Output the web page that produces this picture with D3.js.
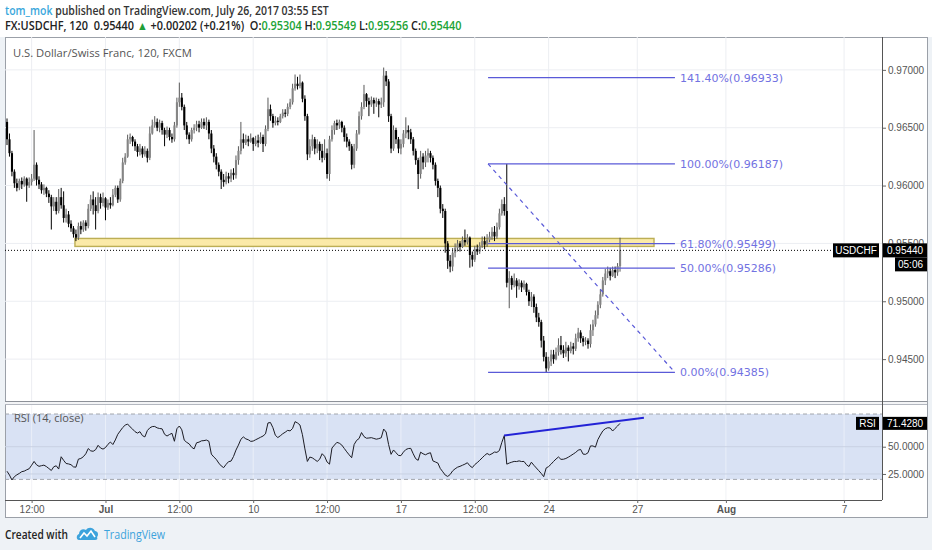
<!DOCTYPE html>
<html>
<head>
<meta charset="utf-8">
<script src="https://cdn.jsdelivr.net/npm/d3@7"></script>
<style>
body{margin:0;background:#eef2f6;}
text{white-space:pre;}
</style>
</head>
<body>
<script>
// USD/CHF 120-minute bars. open = previous close
const firstOpen=0.9655
const closes=[
0.9640,0.9628,0.9612,0.9602,0.9598,0.9604,0.9601,0.9606,0.9600,0.9603,
0.9606,0.9618,0.9605,0.9601,0.9596,0.9598,0.9593,0.9590,0.9582,0.9586,
0.9578,0.9590,0.9583,0.9572,0.9575,0.9567,0.9563,0.9558,0.9555,0.9565,
0.9562,0.9568,0.9565,0.9580,0.9588,0.9583,0.9578,0.9590,0.9585,0.9589,
0.9581,0.9585,0.9583,0.9592,0.9598,0.9588,0.9604,0.9620,0.9625,0.9640,
0.9642,0.9638,0.9634,0.9629,0.9632,0.9627,0.9630,0.9624,0.9645,0.9652,
0.9655,0.9650,0.9654,0.9648,0.9644,0.9648,0.9642,0.9640,0.9652,0.9672,
0.9676,0.9668,0.9652,0.9644,0.9640,0.9648,0.9650,0.9653,0.9650,0.9655,
0.9652,0.9655,0.9645,0.9632,0.9625,0.9618,0.9612,0.9605,0.9603,0.9608,
0.9606,0.9611,0.9609,0.9622,0.9630,0.9640,0.9637,0.9640,0.9638,0.9641,
0.9636,0.9639,0.9637,0.9642,0.9636,0.9649,0.9666,0.9660,0.9654,0.9656,
0.9655,0.9660,0.9663,0.9662,0.9668,0.9672,0.9684,0.9688,0.9686,0.9689,
0.9675,0.9660,0.9627,0.9634,0.9640,0.9632,0.9636,0.9630,0.9624,0.9628,
0.9610,0.9640,0.9648,0.9654,0.9652,0.9655,0.9650,0.9642,0.9638,0.9634,
0.9618,0.9632,0.9645,0.9660,0.9668,0.9679,0.9673,0.9670,0.9674,0.9671,
0.9673,0.9670,0.9672,0.9695,0.9690,0.9660,0.9632,0.9648,0.9640,0.9632,
0.9636,0.9645,0.9648,0.9646,0.9640,0.9630,0.9622,0.9610,0.9625,0.9620,
0.9626,0.9628,0.9624,0.9618,0.9604,0.9598,0.9580,0.9578,0.9550,0.9535,
0.9530,0.9542,0.9546,0.9550,0.9547,0.9553,0.9551,0.9555,0.9540,0.9536,
0.9545,0.9543,0.9548,0.9552,0.9549,0.9553,0.9556,0.9560,0.9556,0.9564,
0.9576,0.9584,0.9578,0.9516,0.9520,0.9514,0.9518,0.9513,0.9516,0.9512,
0.9515,0.9508,0.9500,0.9504,0.9495,0.9486,0.9482,0.9466,0.9452,0.9442,
0.9448,0.9454,0.9450,0.9456,0.9462,0.9458,0.9455,0.9460,0.9457,0.9461,
0.9459,0.9468,0.9473,0.9468,0.9465,0.9466,0.9463,0.9475,0.9480,0.9488,
0.9497,0.9506,0.9518,0.9524,0.9526,0.9522,0.9527,0.9525,0.95304,0.95440]
const highs=[
0.9658,0.9645,0.9630,0.9614,0.9606,0.9606,0.9607,0.9608,0.9607,0.9607,
0.9610,0.9648,0.9620,0.9608,0.9603,0.9601,0.9599,0.9596,0.9592,0.9590,
0.9590,0.9597,0.9598,0.9595,0.9580,0.9578,0.9570,0.9565,0.9562,0.9568,
0.9569,0.9570,0.9570,0.9584,0.9592,0.9595,0.9590,0.9594,0.9593,0.9594,
0.9590,0.9588,0.9590,0.9597,0.9600,0.9600,0.9606,0.9624,0.9628,0.9644,
0.9645,0.9643,0.9640,0.9636,0.9636,0.9634,0.9634,0.9632,0.9651,0.9657,
0.9660,0.9658,0.9657,0.9656,0.9650,0.9651,0.9650,0.9645,0.9655,0.9676,
0.9689,0.9680,0.9670,0.9655,0.9646,0.9650,0.9653,0.9656,0.9656,0.9658,
0.9658,0.9659,0.9657,0.9648,0.9635,0.9628,0.9620,0.9614,0.9610,0.9612,
0.9611,0.9614,0.9615,0.9626,0.9634,0.9655,0.9645,0.9644,0.9643,0.9645,
0.9642,0.9643,0.9644,0.9646,0.9644,0.9652,0.9676,0.9670,0.9662,0.9660,
0.9659,0.9662,0.9666,0.9666,0.9671,0.9675,0.9688,0.9696,0.9694,0.9696,
0.9690,0.9678,0.9662,0.9640,0.9644,0.9642,0.9640,0.9638,0.9636,0.9640,
0.9632,0.9643,0.9652,0.9656,0.9657,0.9657,0.9656,0.9652,0.9645,0.9640,
0.9636,0.9636,0.9648,0.9664,0.9672,0.9687,0.9680,0.9676,0.9677,0.9676,
0.9676,0.9675,0.9676,0.9702,0.9699,0.9692,0.9662,0.9652,0.9650,0.9642,
0.9640,0.9648,0.9659,0.9652,0.9649,0.9642,0.9632,0.9624,0.9630,0.9628,
0.9630,0.9632,0.9630,0.9626,0.9620,0.9606,0.9600,0.9584,0.9580,0.9552,
0.9540,0.9546,0.9550,0.9553,0.9552,0.9556,0.9562,0.9558,0.9556,0.9543,
0.9548,0.9549,0.9551,0.9556,0.9556,0.9558,0.9560,0.9564,0.9565,0.9568,
0.9580,0.9588,0.9590,0.96187,0.9526,0.9522,0.9524,0.9520,0.9519,0.9518,
0.9518,0.9516,0.9510,0.9508,0.9506,0.9498,0.9490,0.9484,0.9470,0.9456,
0.9452,0.9458,0.9458,0.9460,0.9468,0.9470,0.9462,0.9465,0.9462,0.9465,
0.9464,0.9472,0.9477,0.9475,0.9470,0.9469,0.9468,0.9480,0.9484,0.9492,
0.9500,0.9510,0.9521,0.9528,0.9530,0.9529,0.9530,0.9530,0.9533,0.95549]
const lows=[
0.9635,0.9625,0.9608,0.9598,0.9595,0.9596,0.9597,0.9599,0.9586,0.9598,
0.9600,0.9604,0.9600,0.9597,0.9593,0.9592,0.9590,0.9585,0.9562,0.9578,
0.9575,0.9576,0.9580,0.9568,0.9568,0.9564,0.9560,0.9555,0.9552,0.9553,
0.9558,0.9560,0.9561,0.9563,0.9578,0.9575,0.9562,0.9576,0.9580,0.9582,
0.9570,0.9579,0.9580,0.9582,0.9590,0.9585,0.9586,0.9602,0.9618,0.9624,
0.9636,0.9634,0.9630,0.9625,0.9626,0.9624,0.9625,0.9620,0.9622,0.9644,
0.9650,0.9647,0.9646,0.9644,0.9634,0.9641,0.9639,0.9637,0.9638,0.9650,
0.9668,0.9665,0.9648,0.9640,0.9636,0.9638,0.9645,0.9647,0.9646,0.9649,
0.9649,0.9648,0.9640,0.9628,0.9620,0.9614,0.9608,0.9597,0.9599,0.9601,
0.9602,0.9603,0.9605,0.9606,0.9618,0.9627,0.9632,0.9635,0.9634,0.9637,
0.9630,0.9634,0.9633,0.9636,0.9629,0.9634,0.9647,0.9656,0.9650,0.9652,
0.9652,0.9654,0.9658,0.9659,0.9660,0.9666,0.9670,0.9682,0.9683,0.9684,
0.9672,0.9656,0.9622,0.9624,0.9630,0.9627,0.9628,0.9622,0.9620,0.9622,
0.9606,0.9604,0.9638,0.9644,0.9648,0.9649,0.9646,0.9638,0.9633,0.9630,
0.9614,0.9615,0.9630,0.9644,0.9657,0.9666,0.9668,0.9660,0.9668,0.9662,
0.9668,0.9659,0.9667,0.9668,0.9686,0.9655,0.9628,0.9630,0.9636,0.9628,
0.9627,0.9633,0.9641,0.9640,0.9636,0.9626,0.9618,0.9597,0.9606,0.9614,
0.9616,0.9620,0.9620,0.9614,0.9600,0.9590,0.9576,0.9572,0.9542,0.9528,
0.9525,0.9526,0.9538,0.9543,0.9543,0.9546,0.9548,0.9549,0.9529,0.9530,
0.9534,0.9540,0.9541,0.9546,0.9545,0.9547,0.9551,0.9553,0.9552,0.9554,
0.9562,0.9574,0.9574,0.9512,0.9494,0.9510,0.9512,0.9503,0.9510,0.9508,
0.9510,0.9505,0.9496,0.9495,0.9490,0.9482,0.9478,0.9460,0.9448,0.94385,
0.9440,0.9444,0.9446,0.9449,0.9453,0.9454,0.9451,0.9452,0.9448,0.9455,
0.9454,0.9457,0.9465,0.9464,0.9461,0.9462,0.9459,0.9460,0.9470,0.9478,
0.9485,0.9494,0.9504,0.9514,0.9520,0.9518,0.9521,0.9520,0.9522,0.95256]
const rsi=[
27.5,24,19.5,22.5,24.2,25.5,27.1,27.6,28.8,29.8,
33,36.5,33.4,32,32.6,33.1,31.8,30,28.2,31.6,
32.5,29.5,40.8,37.5,34.6,34.2,33.5,31.5,31.2,38.6,
39.2,40.8,43.5,48.3,46.2,45.8,47.3,51.3,48.8,47.8,
49.2,52.2,54.3,52,56.2,61.4,64.5,67.6,69.8,70.8,
68.2,66.2,63.8,62.5,63.8,60.2,59,64.8,67.3,68.5,
68.6,67.3,66.7,66.4,61.4,59.8,61.2,62.3,55,66.5,
69,65.5,56,54,52.6,49.5,48,53.6,54.2,55.4,
55.6,56.1,55,43.2,40.6,38.4,35,32.4,30.8,33.8,
36.3,36.8,41,46.9,51.5,56.8,59,57.2,56.4,54.9,
55.2,56.4,57.5,58.7,59.8,61.8,71.8,72.2,67.5,60.5,
58.4,60,61.9,63.3,65,64.5,66.8,73,71.8,69.9,
61,48,36.5,40.5,39.8,38.2,36.5,38.5,43.6,41.2,
36,34,48.8,51.5,54,53.2,51.5,48.4,45.3,42.5,
39.9,52,55.8,57.5,63,59.3,57.8,58,58.3,57.6,
56.9,57.4,58.2,66.2,63.5,52,43,47,44.5,42,
41.8,45,47.4,48.3,48.5,43.5,39,37.5,45,43.5,
42.6,43.8,44.5,37,36,35,30,27,24,22.7,
24.5,27.8,29.7,31.2,32,33,34,35.3,32.5,30.8,
33.6,35.4,37.5,39.8,42,43.8,42.5,43.6,45.1,44.8,
46.5,54,60.3,34,35,35.8,36.5,36.4,37,36.4,
36.5,33.5,31.8,35.8,33,30.5,28,25.5,22.5,30.5,
31.8,34,36.5,38.7,40.6,38.4,38.5,39.2,40.4,41.8,
43.3,44.8,46.8,47.5,43.2,43,44.5,50.7,50.7,49.6,
56.5,60.7,64.5,66.5,67.4,67.2,64.4,66.8,69,71.428]

// time axis: bar index of each label (weekends skipped)
const tickBars=[10,40,70,100,130,160,190,220,256,292,340]
const tickLabels=["12:00","Jul","12:00","10","12:00","17","12:00","24","27","Aug","7"]
const priceTicks=[0.945,0.95,0.955,0.96,0.965,0.97]
const rsiTicks=[25,50]
const rsiBand=[20,80]

// drawings
const fibLevels=[1.414,1,0.618,0.5,0]
const fibPrices=[0.96933,0.96187,0.95499,0.95286,0.94385]
const fibBars=[195.4,271.3]
const zoneBars=[27.6,262.8]
const zonePrices=[0.95474,0.95543]
const rsiTrendBars=[201.9,258.7]
const rsiTrendValues=[60.3,76.6]
const lastPrice=0.9544

const W=932, H=550
const L=5, R=882, FR=927, T=37, PB=401, RT=404, RB=500, FB=517

const x=d3.scaleLinear().domain([0,355]).range([7,881])
const y=d3.scaleLinear().domain([0.94138,0.97284]).range([PB,T])
const yr=d3.scaleLinear().domain([1.1,89.2]).range([RB,RT])

const axisFont="10px 'Liberation Sans', Arial, sans-serif"

const svg=d3.create("svg")
    .attr("width",W)
    .attr("height",H)
    .style("display","block")

//adding svg to body first so texts can be measured
d3.select("body")
    .append(()=>svg.node())

// squeeze a text horizontally to the width it has in the picture
function fit(sel,x0,target){
    const len=sel.node().getComputedTextLength()
    sel.attr("x",0).attr("transform",`translate(${x0},0) scale(${target/len},1)`)
}

svg.append("rect").attr("width",W).attr("height",H).attr("fill","#eef2f6")
svg.append("rect").attr("width",W).attr("height",T).attr("fill","#fff")
svg.append("rect")
    .attr("x",L+0.5).attr("y",T+0.5)
    .attr("width",FR-L).attr("height",FB-T)
    .attr("fill","#fff").attr("stroke","#9ba0a8")

const defs=svg.append("defs")
defs.append("clipPath").attr("id","cp").append("rect")
    .attr("x",L+1).attr("y",T+1).attr("width",R-L-1).attr("height",PB-T-1)
defs.append("clipPath").attr("id","cr").append("rect")
    .attr("x",L+1).attr("y",RT+1).attr("width",R-L-1).attr("height",RB-RT-1)

//grid
svg.append("g").selectAll("line").data(tickBars).join("line")
    .attr("x1",d=>x(d)).attr("x2",d=>x(d))
    .attr("y1",T).attr("y2",RB)
    .attr("stroke","#eceef2")
svg.append("g").selectAll("line").data(priceTicks).join("line")
    .attr("x1",L).attr("x2",R)
    .attr("y1",d=>y(d)).attr("y2",d=>y(d))
    .attr("stroke","#eceef2")

//yellow support zone
svg.append("rect")
    .attr("x",x(zoneBars[0])).attr("width",x(zoneBars[1])-x(zoneBars[0]))
    .attr("y",y(zonePrices[1])).attr("height",y(zonePrices[0])-y(zonePrices[1]))
    .attr("fill","#fbeaa8").attr("stroke","#bcae55").attr("stroke-width",1.4)

//candles
const bars=closes.map((c,i)=>({i:i,o:i?closes[i-1]:firstOpen,h:highs[i],l:lows[i],c:c}))
const cg=svg.append("g").attr("clip-path","url(#cp)")
cg.selectAll("line").data(bars).join("line")
    .attr("x1",d=>x(d.i)).attr("x2",d=>x(d.i))
    .attr("y1",d=>y(d.h)).attr("y2",d=>y(d.l))
    .attr("stroke",d=>d.c>=d.o?"#5a5a5a":"#000")
    .attr("stroke-width",1)
cg.selectAll("rect").data(bars).join("rect")
    .attr("x",d=>x(d.i)-1).attr("width",2.1)
    .attr("y",d=>y(Math.max(d.o,d.c)))
    .attr("height",d=>Math.max(1,Math.abs(y(d.o)-y(d.c))))
    .attr("fill",d=>d.c>=d.o?"#858585":"#000")

//fibonacci retracement
const fg=svg.append("g")
fg.selectAll("line").data(fibPrices).join("line")
    .attr("x1",x(fibBars[0])).attr("x2",x(fibBars[1]))
    .attr("y1",d=>y(d)).attr("y2",d=>y(d))
    .attr("stroke","#5a5ad8").attr("stroke-width",1.3)
fg.append("line")
    .attr("x1",x(fibBars[0])).attr("y1",y(fibPrices[1]))
    .attr("x2",x(fibBars[1])).attr("y2",y(fibPrices[4]))
    .attr("stroke","#5a5ad8").attr("stroke-width",1.2)
    .attr("stroke-dasharray","4,4")
fg.selectAll("text").data(fibPrices).join("text")
    .attr("x",x(fibBars[1])+5)
    .attr("y",d=>y(d)+4)
    .attr("fill","#7272e2")
    .style("font","11px 'DejaVu Sans', sans-serif")
    .text((d,i)=>`${(fibLevels[i]*100).toFixed(2)}%(${d.toFixed(5)})`)

//last price line
svg.append("line")
    .attr("x1",L).attr("x2",833)
    .attr("y1",y(lastPrice)).attr("y2",y(lastPrice))
    .attr("stroke","#000").attr("stroke-dasharray","1,2")

//price axis
const ya=svg.append("g")
    .attr("transform",`translate(${R},0)`)
    .call(d3.axisRight(y).tickValues(priceTicks).tickFormat(d3.format(".5f")).tickSize(4).tickPadding(2))
ya.select(".domain").remove()
ya.selectAll("line").attr("stroke","#666")
ya.selectAll("text").attr("fill","#555").style("font",axisFont)

//price labels
svg.append("rect").attr("x",833).attr("y",y(lastPrice)-7).attr("width",46).attr("height",14).attr("fill","#000")
svg.append("text").attr("x",856).attr("y",y(lastPrice)+4).attr("text-anchor","middle")
    .attr("fill","#fff").style("font",axisFont).text("USDCHF")
svg.append("rect").attr("x",R).attr("y",y(lastPrice)-7).attr("width",FR-R).attr("height",14).attr("fill","#000")
svg.append("text").attr("x",R+5).attr("y",y(lastPrice)+4)
    .attr("fill","#fff").style("font",axisFont).text(d3.format(".5f")(lastPrice))
svg.append("rect").attr("x",895).attr("y",y(lastPrice)+7).attr("width",FR-895).attr("height",14).attr("fill","#000")
svg.append("text").attr("x",898).attr("y",y(lastPrice)+18)
    .attr("fill","#fff").style("font",axisFont).text("05:06")

//pane separator
svg.append("rect").attr("x",L).attr("y",PB).attr("width",FR-L).attr("height",RT-PB).attr("fill","#f3f4f6")
svg.append("line").attr("x1",L).attr("x2",FR).attr("y1",PB+0.5).attr("y2",PB+0.5).attr("stroke","#8d9198")
svg.append("line").attr("x1",L).attr("x2",FR).attr("y1",RT+0.5).attr("y2",RT+0.5).attr("stroke","#b4b8c0")

//RSI pane
svg.append("rect")
    .attr("x",L+1).attr("width",R-L-1)
    .attr("y",yr(rsiBand[1])).attr("height",yr(rsiBand[0])-yr(rsiBand[1]))
    .attr("fill","#d9e2f4")
svg.append("g").selectAll("line").data(tickBars).join("line")
    .attr("x1",d=>x(d)).attr("x2",d=>x(d))
    .attr("y1",RT+1).attr("y2",RB)
    .attr("stroke","#fff").attr("stroke-opacity",0.45)
svg.append("g").selectAll("line").data(rsiTicks).join("line")
    .attr("x1",L).attr("x2",R)
    .attr("y1",d=>yr(d)).attr("y2",d=>yr(d))
    .attr("stroke","#c9d1e2")
svg.append("g").selectAll("line").data(rsiBand).join("line")
    .attr("x1",L).attr("x2",R)
    .attr("y1",d=>yr(d)).attr("y2",d=>yr(d))
    .attr("stroke","#a3a6ad").attr("stroke-dasharray","4,3")

svg.append("path")
    .datum(rsi)
    .attr("clip-path","url(#cr)")
    .attr("fill","none")
    .attr("stroke","#1c1c24")
    .attr("stroke-width",1)
    .attr("d",d3.line().x((d,i)=>x(i)).y(d=>yr(d)))

svg.append("line")
    .attr("x1",x(rsiTrendBars[0])).attr("y1",yr(rsiTrendValues[0]))
    .attr("x2",x(rsiTrendBars[1])).attr("y2",yr(rsiTrendValues[1]))
    .attr("stroke","#2323d6").attr("stroke-width",2)

svg.append("text").attr("x",14).attr("y",RT+18)
    .attr("fill","#555").style("font","11px 'Open Sans', sans-serif").text("RSI (14, close)")

const ra=svg.append("g")
    .attr("transform",`translate(${R},0)`)
    .call(d3.axisRight(yr).tickValues(rsiTicks).tickFormat(d3.format(".4f")).tickSize(4).tickPadding(2))
ra.select(".domain").remove()
ra.selectAll("line").attr("stroke","#666")
ra.selectAll("text").attr("fill","#555").style("font",axisFont)

const lastRsi=rsi[rsi.length-1]
svg.append("rect").attr("x",856).attr("y",yr(lastRsi)-6.5).attr("width",23).attr("height",13).attr("fill","#000")
svg.append("text").attr("x",867.5).attr("y",yr(lastRsi)+3.5).attr("text-anchor","middle")
    .attr("fill","#fff").style("font",axisFont).text("RSI")
svg.append("rect").attr("x",R).attr("y",yr(lastRsi)-6.5).attr("width",FR-R).attr("height",13).attr("fill","#000")
svg.append("text").attr("x",R+5).attr("y",yr(lastRsi)+3.5)
    .attr("fill","#fff").style("font",axisFont).text(d3.format(".4f")(lastRsi))

//right axis line and pane bottom
svg.append("line").attr("x1",R+0.5).attr("x2",R+0.5).attr("y1",T).attr("y2",RB).attr("stroke","#555")
svg.append("line").attr("x1",L).attr("x2",R).attr("y1",RB+0.5).attr("y2",RB+0.5).attr("stroke","#555")

//time axis
const xa=svg.append("g")
    .attr("transform",`translate(0,${RB})`)
    .call(d3.axisBottom(x).tickValues(tickBars).tickFormat((d,i)=>tickLabels[i]).tickSize(3).tickPadding(3))
xa.select(".domain").remove()
xa.selectAll("line").attr("stroke","#666")
xa.selectAll("text").attr("fill","#555").style("font",axisFont)
    .style("font-weight",(d,i)=>tickLabels[i]=="Jul"||tickLabels[i]=="Aug"?"bold":"normal")

//header
const hfont="600 12px 'Open Sans', sans-serif"
const h1=svg.append("text").attr("y",15).style("font",hfont)
h1.append("tspan").attr("fill","#3aa7dc").text("tom_mok")
h1.append("tspan").attr("fill","#333").text(" published on TradingView.com, July 26, 2017 03:55 EST")
fit(h1,5,324)

const green="#21a336"
const headerParts=[
    ["FX:USDCHF, 120  0.95440 ","#222"],["▲","#1f9e38"],[" +0.00202 (+0.21%)  ","#222"],
    ["O:","#222"],["0.95304",green],[" H:","#222"],["0.95549",green],
    [" L:","#222"],["0.95256",green],[" C:","#222"],["0.95440",green]
]
const h2=svg.append("text").attr("y",30).style("font",hfont)
h2.selectAll("tspan").data(headerParts).join("tspan")
    .attr("fill",d=>d[1]).text(d=>d[0])
fit(h2,5,457)

const title=svg.append("text").attr("y",57)
    .attr("fill","#555").style("font","11px 'Open Sans', sans-serif")
    .text("U.S. Dollar/Swiss Franc, 120, FXCM")
fit(title,13,179)

//footer
const made=svg.append("text").attr("y",539)
    .attr("fill","#222").style("font","600 12px 'Open Sans', sans-serif")
    .text("Created with")
fit(made,5,63)
const logo=svg.append("g").attr("transform","translate(77,527)")
logo.append("path")
    .attr("d","M2,13 C-1,13 -1,8 2,7 C2,3 6,1 9,3 C11,0 16,0 18,4 C21,4 22,8 20,10 C21,12 20,13 18,13 Z")
    .attr("fill","#3ca3dc")
logo.append("path")
    .attr("d","M3,11 L7,6 L10,9 L14,4 L18,10")
    .attr("fill","none").attr("stroke","#fff").attr("stroke-width",1.6)
const tv=svg.append("text").attr("y",539)
    .attr("fill","#3ca3dc").style("font","12px 'Open Sans', sans-serif")
    .text("TradingView")
fit(tv,104,61)
</script>
</body>
</html>
